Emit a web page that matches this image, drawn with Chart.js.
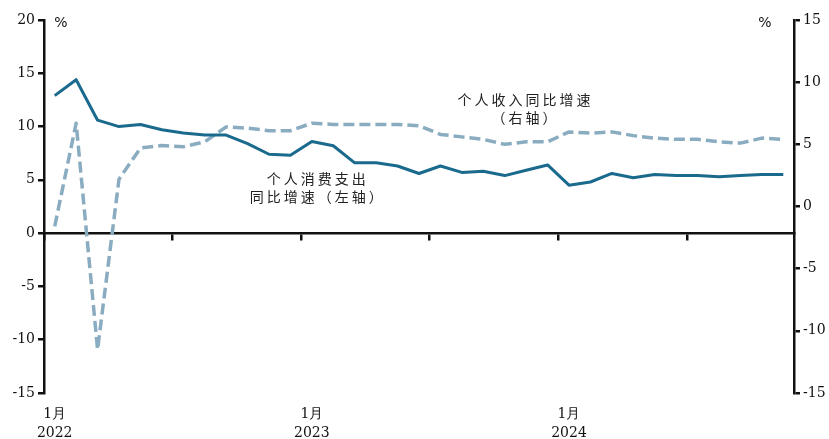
<!DOCTYPE html>
<html>
<head>
<meta charset="utf-8">
<script src="https://cdn.jsdelivr.net/npm/chart.js@4/dist/chart.umd.min.js"></script>
<style>
    body { margin: 0; background: #fff; }
    #wrap { width: 829px; height: 439px; }
</style>
</head>
<body>
<div id="wrap"><canvas id="chart" width="829" height="439"></canvas></div>
<script>
// Months Jan 2022 .. Nov 2024
const months = [];
for (let y = 2022; y <= 2024; y++) {
    for (let m = 1; m <= 12; m++) {
        if (y === 2024 && m > 11) break;
        months.push(`${y}-${m}`);
    }
}

// Personal consumption expenditure, YoY % (left axis)
const spendingYoY = [
    12.9, 14.4, 10.6, 10.0, 10.2, 9.7, 9.4, 9.2, 9.2, 8.4, 7.4, 7.3,
    8.6, 8.2, 6.6, 6.6, 6.3, 5.6, 6.3, 5.7, 5.8, 5.4, 5.9, 6.4,
    4.5, 4.8, 5.6, 5.2, 5.5, 5.4, 5.4, 5.3, 5.4, 5.5, 5.5,
];

// Personal income, YoY % (right axis)
const incomeYoY = [
    -1.6, 6.7, -11.5, 2.2, 4.7, 4.9, 4.8, 5.2, 6.4, 6.3, 6.1, 6.1,
    6.7, 6.6, 6.6, 6.6, 6.6, 6.5, 5.8, 5.6, 5.4, 5.0, 5.2, 5.2,
    6.0, 5.9, 6.0, 5.7, 5.5, 5.4, 5.4, 5.2, 5.1, 5.5, 5.4,
];

// Axis ranges
const leftTicks = { min: -15, max: 20, step: 5 };
const rightTicks = { min: -15, max: 15, step: 5 };

// Series captions: [text lines, month index, value, axis]
const captions = [
    { lines: ["个人收入同比增速", "（右轴）"], at: 21.9, value: 8.6, axis: "y2" },
    { lines: ["个人消费支出", "同比增速（左轴）"], at: 12.2, value: 5.1, axis: "y" },
];

const SOLID = "#1a6a8d";
const DASHED = "#8aacc1";
const INK = "#111";
const tickFont = { family: "'DejaVu Serif', serif", size: 14 };

/**
 * Draws the two series captions and the "%" unit labels
 */
const captionPlugin = {
    id: "captions",
    afterDraw(chart) {
        const ctx = chart.ctx;
        const x = chart.scales.x;
        ctx.save();
        ctx.fillStyle = "#222";
        ctx.textAlign = "center";
        ctx.textBaseline = "middle";
        ctx.font = "14px 'Noto Sans CJK SC'";
        ctx.letterSpacing = "3px";
        captions.forEach((c) => {
            const cx = x.getPixelForValue(c.at);
            const cy = chart.scales[c.axis].getPixelForValue(c.value);
            c.lines.forEach((line, i) => ctx.fillText(line, cx + 1.5, cy + i * 18));
        });

        // Unit labels above each value axis
        ctx.letterSpacing = "0px";
        ctx.font = "14px 'DejaVu Sans'";
        ctx.fillStyle = INK;
        const top = chart.chartArea.top + 3;
        ctx.fillText("%", chart.chartArea.left + 17, top);
        ctx.fillText("%", chart.chartArea.right - 29, top);
        ctx.restore();
    },
};

const chart = new Chart(document.getElementById("chart"), {
    type: "line",
    data: {
        labels: months,
        datasets: [
            {
                label: "个人消费支出同比增速（左轴）",
                data: spendingYoY,
                yAxisID: "y",
                borderColor: SOLID,
                borderWidth: 3,
                borderJoinStyle: "round",
                pointRadius: 0,
                tension: 0,
            },
            {
                label: "个人收入同比增速（右轴）",
                data: incomeYoY,
                yAxisID: "y2",
                borderColor: DASHED,
                borderWidth: 3.5,
                borderDash: [11, 5],
                borderJoinStyle: "round",
                pointRadius: 0,
                tension: 0,
            },
        ],
    },
    options: {
        responsive: false,
        animation: false,
        devicePixelRatio: 1,
        layout: { padding: { top: 20, left: 0, right: 0, bottom: 0 } },
        plugins: { legend: { display: false }, tooltip: { enabled: false } },
        scales: {
            // Bottom axis: only the year labels
            x: {
                type: "category",
                position: "bottom",
                offset: true,
                border: { display: false },
                grid: { display: false },
                ticks: {
                    autoSkip: false,
                    maxRotation: 0,
                    padding: 4,
                    color: INK,
                    font: { ...tickFont, lineHeight: 1.35 },
                    callback: (v, i) => (i % 12 === 0 ? ["1月", months[i].split("-")[0]] : ""),
                },
                afterFit: (s) => { s.height = 46; },
            },
            // Zero line with half-year tick marks
            xZero: {
                type: "category",
                position: { y: 0 },
                offset: true,
                border: { display: true, color: INK, width: 2.5 },
                grid: {
                    offset: true,
                    drawOnChartArea: false,
                    tickLength: 6,
                    lineWidth: 2.5,
                    color: (c) => (c.index % 6 === 0 ? INK : "rgba(0,0,0,0)"),
                },
                ticks: { display: false },
            },
            y: {
                position: "left",
                min: leftTicks.min,
                max: leftTicks.max,
                border: { color: INK, width: 2.5 },
                grid: { drawOnChartArea: false, color: INK, tickLength: 6, lineWidth: 2.5 },
                ticks: { stepSize: leftTicks.step, color: INK, font: tickFont, padding: 3 },
                afterFit: (s) => { s.width = 44; },
            },
            y2: {
                position: "right",
                min: rightTicks.min,
                max: rightTicks.max,
                border: { color: INK, width: 2.5 },
                grid: { drawOnChartArea: false, color: INK, tickLength: 6, lineWidth: 2.5 },
                ticks: { stepSize: rightTicks.step, color: INK, font: tickFont, padding: 3 },
                afterFit: (s) => { s.width = 35; },
            },
        },
    },
    plugins: [captionPlugin],
});
</script>
</body>
</html>
